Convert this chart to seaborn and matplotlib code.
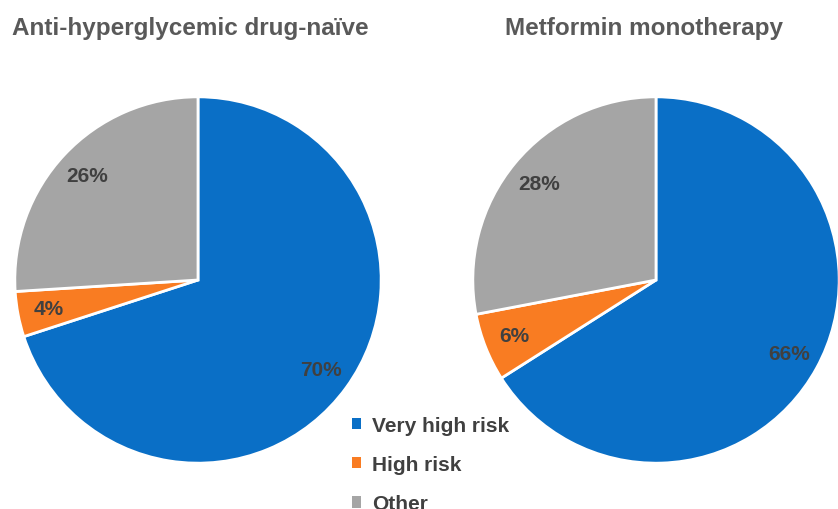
import matplotlib.pyplot as plt
import seaborn as sns
from matplotlib.patches import Patch

categories = ['Very high risk', 'High risk', 'Other']
drug_naive = [70, 4, 26]
metformin = [66, 6, 28]
titles = ['Anti-hyperglycemic drug-naïve', 'Metformin monotherapy']
colors = ['#0A6FC6', '#F97C22', '#A5A5A5']

sns.set_theme(style='white')
plt.rcParams['font.family'] = ['Liberation Sans', 'DejaVu Sans']

fig = plt.figure(figsize=(8.38, 5.10), dpi=100)
W, H = 838, 510


def px_axes(cx, cy, r):
    return fig.add_axes([(cx - r) / W, (H - cy - r) / H, 2 * r / W, 2 * r / H])


for values, cx, title, tx in [(drug_naive, 198, titles[0], 190),
                               (metformin, 656, titles[1], 644)]:
    ax = px_axes(cx, 281, 185)
    ax.pie(values, colors=colors, startangle=90, counterclock=False,
           autopct='%d%%', pctdistance=0.83,
           wedgeprops=dict(edgecolor='white', linewidth=2),
           textprops=dict(fontsize=15, fontweight='bold', color='#404040'))
    ax.set_xlim(-1.01, 1.01)
    ax.set_ylim(-1.01, 1.01)
    fig.text(tx / W, 1 - 28 / H, title, ha='center', va='center',
             fontsize=17.5, fontweight='bold', color='#595959')

handles = [Patch(facecolor=c, edgecolor='none') for c in colors]
fig.legend(handles, categories, loc='upper left',
           bbox_to_anchor=(352 / W, 1 - 417 / H), frameon=False,
           fontsize=15, handlelength=0.45, handleheight=0.45,
           handletextpad=0.5, labelspacing=0.97, borderpad=0,
           borderaxespad=0, labelcolor='#404040')
for t in fig.legends[0].get_texts():
    t.set_fontweight('bold')

fig.savefig('out.png', dpi=100)
